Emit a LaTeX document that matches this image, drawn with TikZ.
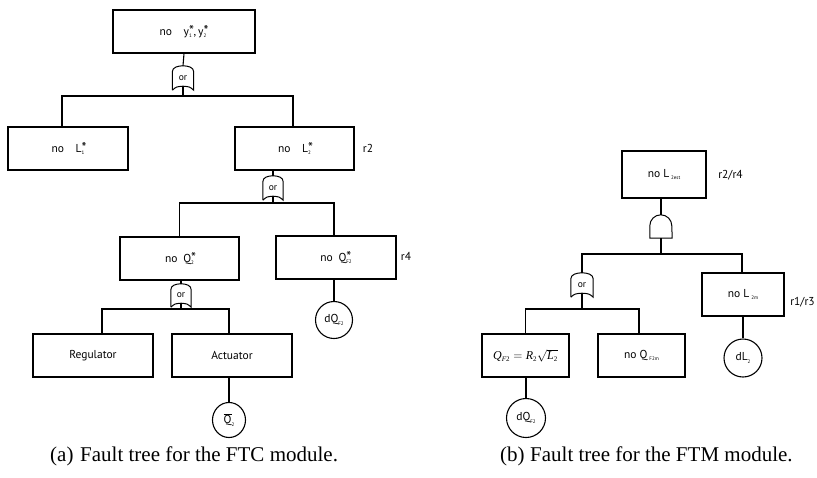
\documentclass[tikz,border=0pt]{standalone}
\usepackage{fontspec}
\setmainfont{Liberation Serif}
\newfontfamily\boxfont{PT Sans}
\usetikzlibrary{shapes.geometric}
\newcommand\stsub[1]{\rlap{\raisebox{0.3pt}{\fontsize{14}{14}\selectfont *}}\raisebox{-2.5pt}{\tiny #1}\hspace{2pt}}
\newcommand\lsub[1]{\raisebox{-2.5pt}{\tiny #1}}
\newcommand\ordraw[1]{%
  \draw[gline] (#1.south west) -- ([yshift=-6pt]#1.north west)
    .. controls ([yshift=-1.5pt]#1.north west) and ([xshift=-5pt]#1.north) .. (#1.north)
    .. controls ([xshift=5pt]#1.north) and ([yshift=-1.5pt]#1.north east) .. ([yshift=-6pt]#1.north east)
    -- (#1.south east)
    .. controls ([xshift=-4pt,yshift=3.5pt]#1.south east) .. ([yshift=4pt]#1.south)
    .. controls ([xshift=4pt,yshift=3.5pt]#1.south west) .. (#1.south west);}
\newcommand\anddraw[1]{%
  \draw[gline] (#1.south west) -- ([yshift=-11pt]#1.north west)
    arc[start angle=180,end angle=0,radius=11pt] -- (#1.south east) -- cycle;}
\tikzset{
  evbox/.style={draw, line width=1.1pt, inner sep=0pt, minimum height=43pt,
    font=\boxfont\fontsize{11.5}{13}\selectfont},
  evcirc/.style={draw, circle, line width=1.1pt, inner sep=0pt,
    font=\boxfont\fontsize{11.5}{13}\selectfont},
  gatenode/.style={inner sep=0pt, font=\boxfont\fontsize{9.5}{10}\selectfont},
  gline/.style={line width=1pt},
  conn/.style={line width=1.1pt},
  rlab/.style={font=\boxfont\fontsize{11.5}{13}\selectfont, inner sep=0pt},
  caption/.style={font=\fontsize{21}{24}\selectfont, inner sep=0pt}
}
\begin{document}
\begin{tikzpicture}[x=1pt,y=-1pt]
\useasboundingbox (0,0) rectangle (817,477);
% ---------- (a) FTC tree ----------
\node[evbox, minimum width=142pt] (top) at (184,31.5) {no\quad y\stsub{1},\,y\stsub{2}\hspace{20pt}};
\node[gatenode, minimum width=21pt, minimum height=24pt] (g1) at (183,78) {or};
\ordraw{g1}
\coordinate (b1) at (183,96);
\node[evbox, minimum width=120pt] (L1) at (68,148.5) {no\quad L\stsub{1}};
\node[evbox, minimum width=119pt] (L2) at (294.5,148.5) {no\quad L\stsub{2}};
\node[rlab] (r2) at (368,148) {r2};
\node[gatenode, minimum width=20pt, minimum height=24pt] (g2) at (273,188) {or};
\ordraw{g2}
\coordinate (b2) at (273,203);
\node[evbox, minimum width=119pt] (Q2) at (179.5,258.5) {no\enspace Q\stsub{2}};
\node[evbox, minimum width=120pt] (QF) at (336,257.5) {no\enspace Q\stsub{F2}};
\node[rlab] (r4) at (406,256) {r4};
\node[gatenode, minimum width=20pt, minimum height=23pt] (g3) at (181,295.5) {or};
\ordraw{g3}
\coordinate (b3) at (181,309);
\node[evbox, minimum width=120pt] (Reg) at (93,355.5) {Regulator};
\node[evbox, minimum width=120pt] (Act) at (232,355.5) {Actuator};
\node[draw, ellipse, line width=1.1pt, inner sep=0pt, minimum width=33pt, minimum height=35pt,
  font=\boxfont\fontsize{11.5}{13}\selectfont] (c1) at (229,420) {$\overline{\hbox{Q}}$\lsub{2}};
\node[evcirc, minimum size=37pt] (c2) at (334,320) {dQ\lsub{F2}};
% connectors (a)
\draw[conn] (top.south) -- (g1.north);
\draw[conn] ([yshift=4pt]g1.south) -- (b1);
\draw[conn] ([xshift=-6pt]L1.north) |- (b1) -| ([xshift=-1.5pt]L2.north);
\draw[conn] (g2.north |- L2.south) -- (g2.north);
\draw[conn] ([yshift=4pt]g2.south) -- (b2);
\draw[conn] (Q2.north) |- (b2) -| ([xshift=-2pt]QF.north);
\draw[conn] (g3.north |- Q2.south) -- (g3.north);
\draw[conn] ([yshift=4pt]g3.south) -- (b3);
\draw[conn] ([xshift=9pt]Reg.north) |- (b3) -| ([xshift=-3pt]Act.north);
\draw[conn] ([xshift=-3pt]Act.south) -- (c1.north);
\draw[conn] (c2.north |- QF.south) -- (c2.north);
% ---------- (b) FTM tree ----------
\node[evbox, minimum width=84pt, minimum height=47pt] (Lest) at (664,174.5) {no L\,\lsub{2est}};
\node[rlab] (r24) at (730.5,175) {r2/r4};
\node[gatenode, minimum width=22pt, minimum height=23pt] (a1) at (661,226.5) {};
\anddraw{a1}
\coordinate (b4) at (661,254);
\node[gatenode, minimum width=22pt, minimum height=24pt] (g5) at (582,285) {or};
\ordraw{g5}
\coordinate (b5) at (582,309);
\node[evbox, minimum width=82pt] (L2m) at (743,294.5) {no L\,\lsub{2m}};
\node[rlab] (r13) at (802.5,302) {r1/r3};
\node[evbox, minimum width=87pt, font=\rmfamily\fontsize{12}{14}\selectfont] (F) at (525.5,355.5)
  {$\hbox{\itshape Q}_{\hbox{\fontsize{7}{7}\selectfont\itshape F\upshape 2}}
   = \hbox{\itshape R}_{\hbox{\fontsize{7}{7}\selectfont 2}}
   \sqrt{\hbox{\itshape L}_{\hbox{\fontsize{7}{7}\selectfont 2}}}$};
\node[evbox, minimum width=87pt] (QFm) at (641.5,355.5) {no Q\,\lsub{F2m}};
\node[evcirc, minimum size=38pt] (c3) at (743,358) {dL\lsub{2}};
\node[evcirc, minimum size=39pt] (c4) at (526,418) {dQ\lsub{F2}};
% connectors (b)
\draw[conn] (a1.north |- Lest.south) -- (a1.north);
\draw[conn] (a1.south) -- (b4);
\draw[conn] (g5.north) |- (b4) -| ([xshift=-1pt]L2m.north);
\draw[conn] ([yshift=4pt]g5.south) -- (b5);
\draw[conn] (F.north) |- (b5) -| ([xshift=-2.5pt]QFm.north);
\draw[conn] (c3.north |- L2m.south) -- (c3.north);
\draw[conn] (c4.north |- F.south) -- (c4.north);
% ---------- captions ----------
\node[caption, anchor=base west] (capa) at (50,461) {\makebox[30pt][l]{(a)}Fault tree for the FTC module.};
\node[caption, anchor=base west] (capb) at (500,461) {\makebox[30pt][l]{(b)}Fault tree for the FTM module.};
\end{tikzpicture}
\end{document}
